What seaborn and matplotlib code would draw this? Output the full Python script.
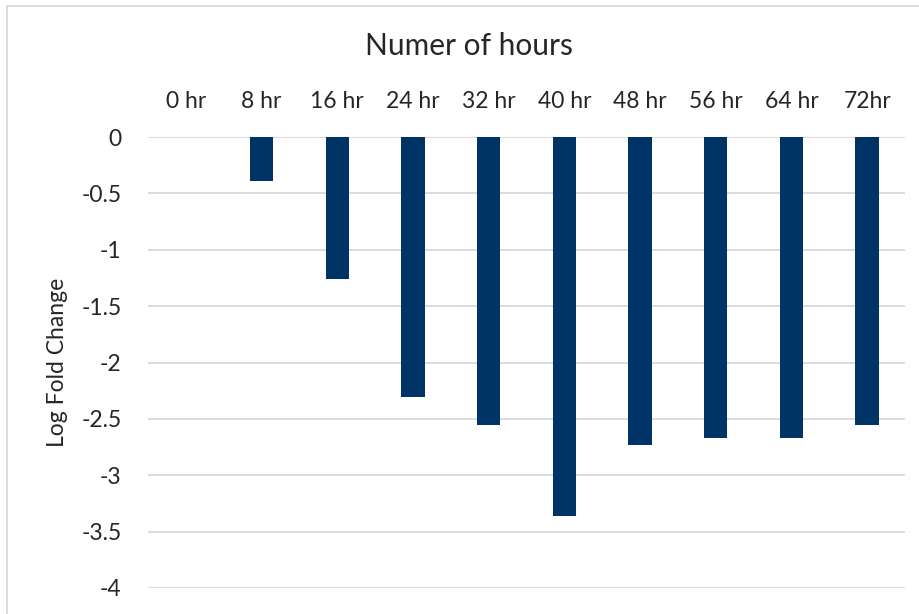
import matplotlib
matplotlib.use("Agg")
import matplotlib.pyplot as plt
import seaborn as sns
import pandas as pd
from matplotlib.patches import Rectangle

hours = ["0 hr", "8 hr", "16 hr", "24 hr", "32 hr", "40 hr", "48 hr", "56 hr", "64 hr", "72hr"]
log_fold_change = [0.0, -0.39, -1.26, -2.31, -2.55, -3.36, -2.73, -2.67, -2.67, -2.55]
y_ticks = [0, -0.5, -1, -1.5, -2, -2.5, -3, -3.5, -4]
y_tick_labels = ["0", "-0.5", "-1", "-1.5", "-2", "-2.5", "-3", "-3.5", "-4"]

sns.set_style("white")
plt.rcParams["font.family"] = ["Lato", "DejaVu Sans"]

W, H = 919, 614
fig = plt.figure(figsize=(W / 100, H / 100), dpi=100)
ax = fig.add_axes([148 / W, 1 - 588 / H, (905 - 148) / W, (588 - 137) / H])

df = pd.DataFrame({"hour": hours, "lfc": log_fold_change})
sns.barplot(data=df, x="hour", y="lfc", color="#003366", width=0.31,
            saturation=1, ax=ax, order=hours, linewidth=0)

ax.set_ylim(-4, 0)
ax.set_xlim(-0.5, len(hours) - 0.5)
ax.set_yticks(y_ticks)
ax.set_yticklabels(y_tick_labels, fontsize=16.5)
ax.yaxis.grid(True, color="#D9D9D9", linewidth=1.3)
ax.set_axisbelow(True)
for s in ax.spines.values():
    s.set_visible(False)
ax.xaxis.tick_top()
ax.tick_params(axis="x", length=0, pad=18, labelsize=16.5)
ax.tick_params(axis="y", length=0, pad=19)
ax.set_xlabel("")
ax.set_ylabel("")

fig.text(57 / W, 1 - 362 / H, "Log Fold Change", rotation=90, ha="center",
         va="center", fontsize=16.5)
fig.text(469 / W, 1 - 46 / H, "Numer of hours", ha="center", va="center",
         fontsize=21.5)

# chart border (top and left visible)
fig.patches.append(Rectangle((7 / W, -0.1), 1.2, 1 - 6 / H + 0.1,
                             transform=fig.transFigure, fill=False,
                             edgecolor="#D9D9D9", linewidth=1.3))

fig.savefig("out.png", dpi=100)
